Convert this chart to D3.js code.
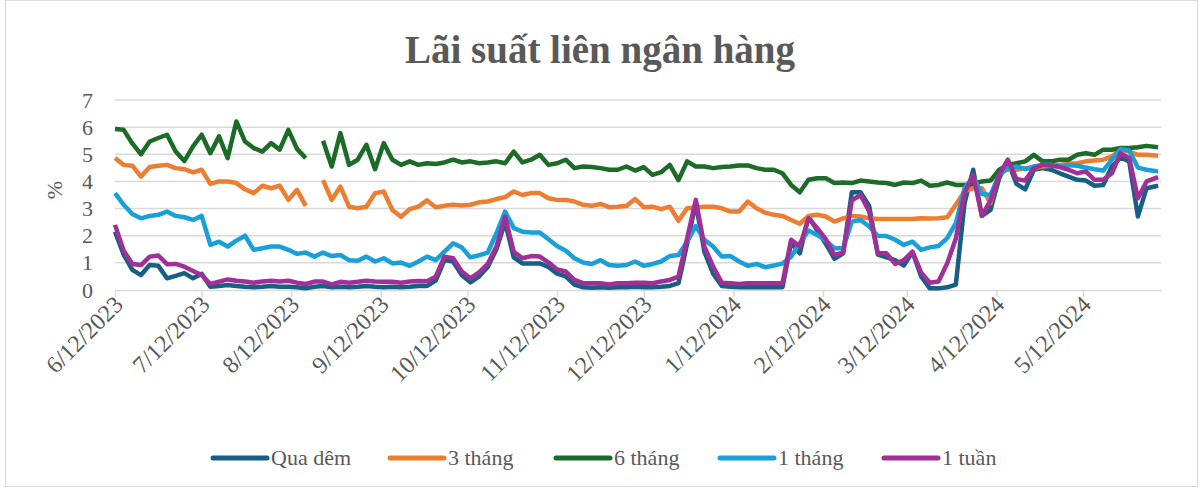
<!DOCTYPE html>
<html>
<head>
<meta charset="utf-8">
<script src="https://cdn.jsdelivr.net/npm/d3@7"></script>
<style>
  body { margin: 0; background: #fff; }
  svg { display: block; }
</style>
</head>
<body>
<div id="chart"></div>
<script>
// dates every 3 days (Excel date axis)
var dates = [
  "2023-06-12","2023-06-15","2023-06-18","2023-06-21","2023-06-24","2023-06-27","2023-06-30",
  "2023-07-03","2023-07-06","2023-07-09","2023-07-12","2023-07-15","2023-07-18","2023-07-21","2023-07-24","2023-07-27","2023-07-30",
  "2023-08-02","2023-08-05","2023-08-08","2023-08-11","2023-08-14","2023-08-17","2023-08-20","2023-08-23","2023-08-26","2023-08-29",
  "2023-09-01","2023-09-04","2023-09-07","2023-09-10","2023-09-13","2023-09-16","2023-09-19","2023-09-22","2023-09-25","2023-09-28",
  "2023-10-01","2023-10-04","2023-10-07","2023-10-10","2023-10-13","2023-10-16","2023-10-19","2023-10-22","2023-10-25","2023-10-28","2023-10-31",
  "2023-11-03","2023-11-06","2023-11-09","2023-11-12","2023-11-15","2023-11-18","2023-11-21","2023-11-24","2023-11-27","2023-11-30",
  "2023-12-03","2023-12-06","2023-12-09","2023-12-12","2023-12-15","2023-12-18","2023-12-21","2023-12-24","2023-12-27","2023-12-30",
  "2024-01-02","2024-01-05","2024-01-08","2024-01-11","2024-01-14","2024-01-17","2024-01-20","2024-01-23","2024-01-26","2024-01-29",
  "2024-02-01","2024-02-04","2024-02-07","2024-02-10","2024-02-13","2024-02-16","2024-02-19","2024-02-22","2024-02-25","2024-02-28",
  "2024-03-02","2024-03-05","2024-03-08","2024-03-11","2024-03-14","2024-03-17","2024-03-20","2024-03-23","2024-03-26","2024-03-29",
  "2024-04-01","2024-04-04","2024-04-07","2024-04-10","2024-04-13","2024-04-16","2024-04-19","2024-04-22","2024-04-25","2024-04-28",
  "2024-05-01","2024-05-04","2024-05-07","2024-05-10","2024-05-13","2024-05-16","2024-05-19","2024-05-22","2024-05-25","2024-05-28","2024-05-31",
  "2024-06-03","2024-06-07"
];

var quaDem = [2.15,1.3,0.74,0.55,0.92,0.89,0.43,0.52,0.62,0.43,0.6,0.12,0.15,0.18,0.15,0.12,0.1,0.12,0.15,0.12,
  0.12,0.1,0.06,0.12,0.15,0.1,0.12,0.1,0.12,0.15,0.12,0.1,0.12,0.1,0.12,0.15,0.15,0.35,1.1,1.05,
  0.55,0.28,0.5,0.85,1.5,2.5,1.2,0.98,0.98,0.98,0.85,0.6,0.5,0.2,0.1,0.08,0.1,0.08,0.1,0.1,
  0.12,0.1,0.1,0.12,0.15,0.25,1.7,3.2,1.4,0.6,0.15,0.12,0.1,0.1,0.1,0.1,0.1,0.1,1.75,1.35,
  2.7,2.2,1.7,1.15,1.35,3.6,3.6,3.1,1.3,1.2,1.1,0.9,1.4,0.5,0.06,0.06,0.1,0.2,3.2,4.43,
  2.73,2.95,4.12,4.74,3.91,3.71,4.43,4.49,4.43,4.3,4.18,4.06,4.03,3.84,3.87,4.55,4.88,4.74,2.71,3.75,3.84];

var baThang = [4.86,4.61,4.58,4.18,4.53,4.58,4.61,4.49,4.45,4.33,4.43,3.91,4.0,4.0,3.94,3.71,3.57,3.84,3.75,3.84,
  3.32,3.69,3.1,null,4.05,3.32,3.81,3.07,3.01,3.07,3.57,3.63,2.95,2.7,2.98,3.07,3.3,3.05,3.1,3.14,
  3.11,3.14,3.23,3.26,3.35,3.42,3.63,3.5,3.57,3.57,3.38,3.32,3.32,3.26,3.14,3.1,3.17,3.05,3.07,3.1,
  3.35,3.05,3.07,2.98,3.07,2.55,3.01,3.04,3.07,3.07,3.01,2.89,2.89,3.26,3.01,2.85,2.77,2.73,2.58,2.44,
  2.73,2.77,2.71,2.52,2.64,2.73,2.71,2.64,2.62,2.62,2.62,2.62,2.62,2.64,2.63,2.64,2.68,3.14,3.63,3.75,
  3.75,3.2,4.37,4.43,4.43,4.49,4.49,4.55,4.58,4.61,4.65,4.67,4.74,4.77,4.8,4.92,5.17,5.1,4.98,4.98,4.95];

var sauThang = [5.93,5.9,5.4,5.0,5.47,5.6,5.72,5.1,4.75,5.29,5.72,5.04,5.66,4.86,6.21,5.47,5.23,5.1,5.41,5.17,
  5.9,5.2,4.86,null,5.5,4.55,5.78,4.61,4.8,5.35,4.45,5.41,4.8,4.61,4.74,4.61,4.67,4.64,4.7,4.8,
  4.7,4.74,4.67,4.7,4.74,4.67,5.1,4.7,4.8,4.98,4.61,4.67,4.8,4.49,4.55,4.53,4.49,4.43,4.43,4.55,
  4.4,4.53,4.24,4.34,4.61,4.05,4.74,4.55,4.55,4.49,4.53,4.55,4.59,4.59,4.49,4.43,4.43,4.3,3.87,3.6,
  4.06,4.12,4.12,3.94,3.96,3.94,4.03,4.0,3.96,3.94,3.87,3.96,3.94,4.03,3.84,3.87,3.96,3.87,3.87,3.91,
  4.0,4.03,4.43,4.61,4.67,4.74,4.98,4.74,4.74,4.8,4.8,4.98,5.04,4.98,5.17,5.17,5.23,5.23,5.26,5.31,5.26];

var motThang = [3.57,3.14,2.8,2.64,2.73,2.77,2.89,2.73,2.68,2.58,2.73,1.66,1.78,1.6,1.82,2.0,1.48,1.54,1.6,1.6,
  1.48,1.33,1.38,1.23,1.38,1.25,1.29,1.1,1.08,1.23,1.05,1.17,0.98,1.01,0.89,1.05,1.23,1.1,1.41,1.72,
  1.57,1.2,1.28,1.38,2.09,2.89,2.28,2.15,2.12,2.12,1.87,1.62,1.45,1.17,1.01,0.96,1.1,0.92,0.89,0.92,
  1.05,0.89,0.96,1.05,1.25,1.29,1.78,2.35,1.85,1.6,1.23,1.25,1.05,0.89,0.96,0.84,0.9,0.98,1.23,1.72,
  2.19,2.03,1.82,1.54,1.54,2.52,2.58,2.34,2.0,1.99,1.85,1.66,1.78,1.48,1.57,1.62,1.91,2.46,3.75,4.18,
  3.54,3.5,4.24,4.49,4.55,4.45,4.55,4.61,4.61,4.55,4.6,4.58,4.51,4.45,4.4,4.8,5.19,5.14,4.51,4.43,4.37];

var motTuan = [2.4,1.45,0.96,0.92,1.23,1.27,0.95,0.96,0.86,0.7,0.55,0.22,0.31,0.39,0.34,0.31,0.27,0.31,0.34,0.31,
  0.34,0.27,0.22,0.31,0.31,0.21,0.3,0.27,0.3,0.34,0.31,0.3,0.3,0.27,0.31,0.33,0.32,0.49,1.23,1.17,
  0.68,0.43,0.65,0.96,1.6,2.7,1.41,1.17,1.25,1.23,1.02,0.76,0.68,0.37,0.25,0.25,0.25,0.2,0.25,0.25,
  0.27,0.27,0.25,0.31,0.37,0.49,1.9,3.32,1.6,0.86,0.27,0.25,0.22,0.25,0.25,0.25,0.25,0.25,1.85,1.6,
  2.64,2.28,1.87,1.29,1.38,3.3,3.5,2.89,1.35,1.35,0.96,1.1,1.41,0.64,0.27,0.31,0.98,1.9,3.57,4.24,
  2.73,3.3,4.24,4.8,4.09,4.03,4.49,4.61,4.59,4.53,4.43,4.3,4.37,4.06,4.06,4.3,5.04,4.86,3.38,4.0,4.16];

var tickDates = ["2023-06-12","2023-07-12","2023-08-12","2023-09-12","2023-10-12","2023-11-12",
  "2023-12-12","2024-01-12","2024-02-12","2024-03-12","2024-04-12","2024-05-12"];
var yTicks = [0, 1, 2, 3, 4, 5, 6, 7];

var seriesNames = ["Qua dêm", "3 tháng", "6 tháng", "1 tháng", "1 tuần"];
var seriesValues = [quaDem, baThang, sauThang, motThang, motTuan];
var colors = ["#175f84", "#ed7d31", "#1c6b26", "#19a0d8", "#a02f97"];

var W = 1203, H = 490;
var margin = {top: 100, right: 42, bottom: 200, left: 115},
    width = 1161 - margin.left,
    height = 290 - margin.top;

var parse = d3.timeParse("%Y-%m-%d");
var fmt = d3.timeFormat("%-m/%-d/%Y");

var svg = d3.select("#chart").append("svg")
    .attr("width", W)
    .attr("height", H);

// chart border
svg.append("rect")
    .attr("x", 5.5).attr("y", 0.5)
    .attr("width", 1192).attr("height", 486)
    .attr("fill", "none").attr("stroke", "#d9d9d9").attr("stroke-width", 1);

svg.append("text")
    .attr("x", 600).attr("y", 63)
    .attr("text-anchor", "middle")
    .attr("font-family", "'Liberation Serif', 'DejaVu Serif', serif")
    .attr("font-weight", "bold")
    .attr("font-size", "39px")
    .attr("fill", "#595959")
    .text("Lãi suất liên ngân hàng");

var g = svg.append("g")
    .attr("transform", "translate(" + margin.left + "," + margin.top + ")");

var x = d3.scaleTime()
    .domain([parse("2023-06-12"), parse("2024-06-08")])
    .range([0, width]);

var y = d3.scaleLinear()
    .domain([0, 7])
    .range([height, 0]);

// gridlines
g.append("g")
    .selectAll("line")
    .data(yTicks.slice(1))
    .enter().append("line")
    .attr("x1", 0).attr("x2", width)
    .attr("y1", function(d) { return y(d); })
    .attr("y2", function(d) { return y(d); })
    .attr("stroke", "#d9d9d9")
    .attr("stroke-width", 1.5);

// y axis
var yAxis = g.append("g")
    .call(d3.axisLeft(y).tickValues(yTicks).tickFormat(d3.format("d")).tickSize(0).tickPadding(22));
yAxis.select(".domain").remove();
yAxis.selectAll("text")
    .attr("font-family", "'Liberation Serif', serif")
    .attr("font-size", "22px")
    .attr("fill", "#595959");

// x axis
var xAxis = g.append("g")
    .attr("transform", "translate(0," + height + ")")
    .call(d3.axisBottom(x)
        .tickValues(tickDates.map(parse))
        .tickFormat(fmt)
        .tickSizeInner(7)
        .tickSizeOuter(0));
xAxis.select(".domain").attr("stroke", "#d9d9d9").attr("stroke-width", 1.5);
xAxis.selectAll(".tick line").attr("stroke", "#d9d9d9").attr("stroke-width", 1.5);
xAxis.selectAll("text")
    .attr("font-family", "'Liberation Serif', serif")
    .attr("font-size", "24px")
    .attr("fill", "#595959")
    .attr("text-anchor", "end")
    .attr("dy", null)
    .attr("y", 0)
    .attr("transform", "translate(9,16) rotate(-45)");

// y label
svg.append("text")
    .attr("transform", "translate(62,190) rotate(-90)")
    .attr("text-anchor", "middle")
    .attr("font-family", "'Liberation Serif', serif")
    .attr("font-size", "22px")
    .attr("fill", "#595959")
    .text("%");

// lines
var line = d3.line()
    .defined(function(d) { return d.v != null; })
    .x(function(d) { return x(d.date); })
    .y(function(d) { return y(d.v); });

seriesValues.forEach(function(vals, k) {
    var pts = dates.map(function(s, i) { return {date: parse(s), v: vals[i]}; });
    g.append("path")
        .datum(pts)
        .attr("fill", "none")
        .attr("stroke", colors[k])
        .attr("stroke-width", 4.5)
        .attr("stroke-linejoin", "round")
        .attr("d", line);
});

// legend
var legendX = [213, 390, 556, 720, 884];
var legend = svg.append("g");
seriesNames.forEach(function(name, k) {
    legend.append("line")
        .attr("x1", legendX[k]).attr("x2", legendX[k] + 54)
        .attr("y1", 458).attr("y2", 458)
        .attr("stroke", colors[k])
        .attr("stroke-width", 5)
        .attr("stroke-linecap", "round");
    legend.append("text")
        .attr("x", legendX[k] + 58).attr("y", 465)
        .attr("font-family", "'Liberation Serif', serif")
        .attr("font-size", "22px")
        .attr("fill", "#595959")
        .text(name);
});
</script>
</body>
</html>
